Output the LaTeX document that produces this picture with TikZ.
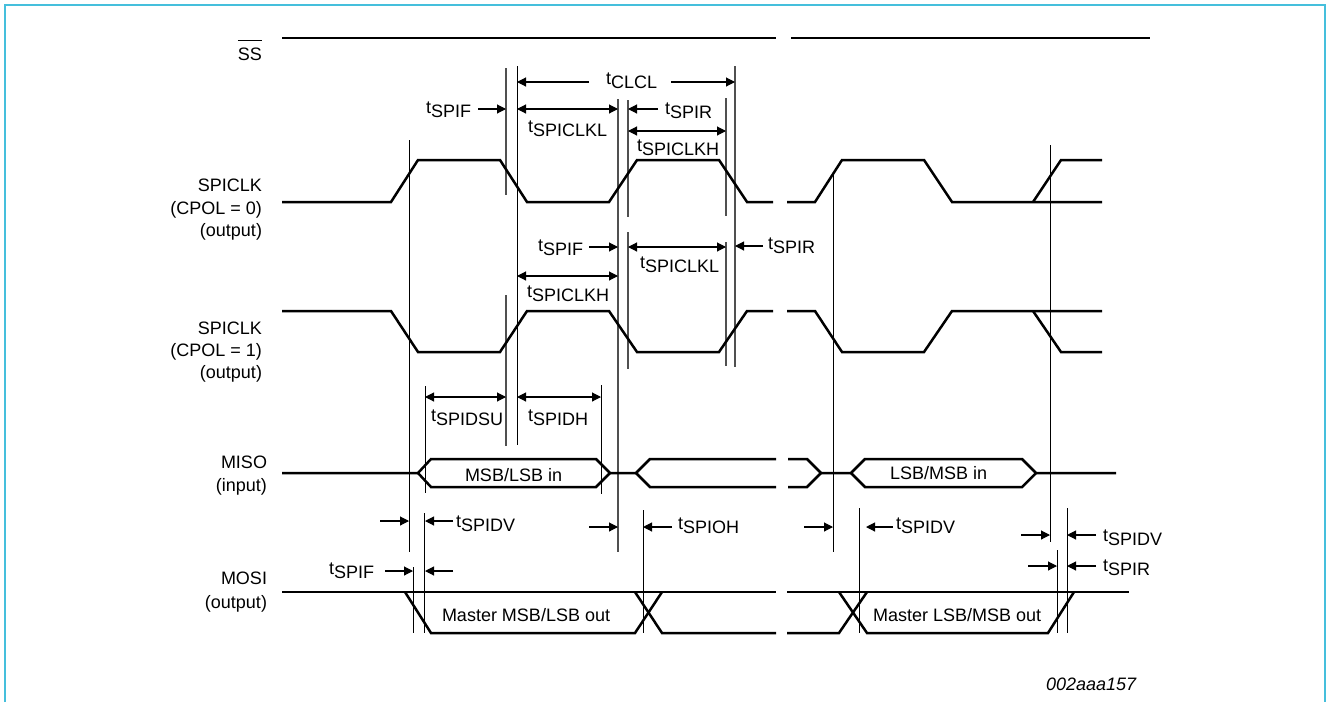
\documentclass[tikz,border=0pt]{standalone}
\usepackage{fontspec}
\setmainfont{Liberation Sans}
\usetikzlibrary{arrows.meta}
\newcommand\tsub[1]{t\raisebox{-4pt}{#1}}
\newcommand\ssbar{\setbox0\hbox{SS}\rlap{\raisebox{19pt}{\rule{\wd0}{1pt}}}\box0}
\definecolor{frameblue}{HTML}{45BFDC}
\definecolor{guidegray}{HTML}{505050}
\tikzset{
  frameline/.style={draw=frameblue,line width=2pt},
  wave/.style={draw=black,line width=2.5pt,line join=miter,line cap=butt},
  guidethin/.style={draw=black,line width=0.9pt},
  guidethick/.style={draw=guidegray,line width=1.5pt},
  dimline/.style={draw=black,line width=1.1pt},
  dimto/.style={dimline,-{Triangle[length=9pt,width=9pt]}},
  dimboth/.style={dimline,{Triangle[length=9pt,width=9pt]}-{Triangle[length=9pt,width=9pt]}},
  lbl/.style={inner sep=0pt,outer sep=0pt,font=\fontsize{18}{20}\selectfont,anchor=base west},
  lblr/.style={lbl,anchor=base east},
}
\begin{document}
\begin{tikzpicture}[x=1pt,y=-1pt]
\useasboundingbox (0,0) rectangle (1326,702);
\draw[frameline] (5,702) -- (5,5) -- (1325,5) -- (1325,702);

% guides
\foreach \x/\a/\b in {506/68/195,506/295/446,618/99/552,628/100/217,628/232/369,726/98/216,726/242/366,735/66/367}
  \draw[guidethick] (\x,\a) -- (\x,\b);
\foreach \x/\a/\b in {517/66/445,409/140/552,425/386/493,601/385/494,413/567/633,424/513/633,643/510/633,833/175/552,859/508/633,1050/145/542,1057/550/633,1067/508/633}
  \draw[guidethin] (\x,\a) -- (\x,\b);

% SS
\draw[wave] (282,38) -- (776,38);
\draw[wave] (791,38) -- (1150,38);
% SPICLK CPOL=0
\draw[wave] (282,202) -- (391,202) -- (418,160) -- (500,160) -- (527,202) -- (609,202) -- (637,160) -- (719,160) -- (747,202) -- (773,202);
\draw[wave] (787,202) -- (815,202) -- (842,160) -- (924,160) -- (952,202) -- (1102,202);
\draw[wave] (1033,202) -- (1061,160) -- (1102,160);
% SPICLK CPOL=1
\draw[wave] (282,311) -- (391,311) -- (418,352) -- (500,352) -- (527,311) -- (609,311) -- (637,352) -- (719,352) -- (747,311) -- (773,311);
\draw[wave] (787,311) -- (815,311) -- (842,352) -- (924,352) -- (952,311) -- (1102,311);
\draw[wave] (1033,311) -- (1061,352) -- (1102,352);
% MISO
\draw[wave] (282,473) -- (418,473) -- (431,459) -- (596,459) -- (610,473) -- (636,473) -- (650,459) -- (776,459);
\draw[wave] (418,473) -- (431,487) -- (596,487) -- (610,473);
\draw[wave] (636,473) -- (650,487) -- (776,487);
\draw[wave] (788,459) -- (807,459) -- (821,473) -- (807,487) -- (788,487);
\draw[wave] (821,473) -- (851,473) -- (865,459) -- (1022,459) -- (1036,473) -- (1116,473);
\draw[wave] (851,473) -- (865,487) -- (1022,487) -- (1036,473);
% MOSI
\draw[wave] (282,592) -- (776,592);
\draw[wave] (787,592) -- (1129,592);
\draw[wave] (405,592) -- (431,633) -- (635,633) -- (662,592);
\draw[wave] (635,592) -- (662,633) -- (776,633);
\draw[wave] (787,633) -- (839,633) -- (867,592);
\draw[wave] (839,592) -- (867,633) -- (1048,633) -- (1074,592);

% dimension arrows
\draw[dimto] (589,82) -- (517,82);
\draw[dimto] (671,82) -- (735,82);
\draw[dimto] (478,109) -- (506,109);
\draw[dimboth] (517,109) -- (618,109);
\draw[dimto] (658,109) -- (628,109);
\draw[dimboth] (628,131) -- (726,131);
\draw[dimto] (589,247) -- (618,247);
\draw[dimboth] (628,247) -- (726,247);
\draw[dimto] (763,246) -- (735,246);
\draw[dimboth] (517,276) -- (618,276);
\draw[dimboth] (425,397) -- (506,397);
\draw[dimboth] (517,397) -- (601,397);
\draw[dimto] (380,521) -- (409,521);
\draw[dimto] (453,521) -- (425,521);
\draw[dimto] (589,527) -- (618,527);
\draw[dimto] (672,527) -- (643,527);
\draw[dimto] (385,571) -- (413,571);
\draw[dimto] (453,571) -- (425,571);
\draw[dimto] (804,527) -- (833,527);
\draw[dimto] (893,527) -- (866,527);
\draw[dimto] (1021,535) -- (1050,535);
\draw[dimto] (1096,535) -- (1067,535);
\draw[dimto] (1028,566) -- (1057,566);
\draw[dimto] (1096,566) -- (1067,566);

% timing labels
\node[lbl] (tclcl) at (606,84) {\tsub{CLCL}};
\node[lbl] (tspifa) at (426,113) {\tsub{SPIF}};
\node[lbl] (tclkla) at (528,132) {\tsub{SPICLKL}};
\node[lbl] (tspira) at (665,114) {\tsub{SPIR}};
\node[lbl] (tclkha) at (637,151) {\tsub{SPICLKH}};
\node[lbl] (tspifb) at (538,251) {\tsub{SPIF}};
\node[lbl] (tclklb) at (640,268) {\tsub{SPICLKL}};
\node[lbl] (tspirb) at (768,249) {\tsub{SPIR}};
\node[lbl] (tclkhb) at (527,297) {\tsub{SPICLKH}};
\node[lbl] (tdsu) at (431,421) {\tsub{SPIDSU}};
\node[lbl] (tdh) at (528,421) {\tsub{SPIDH}};
\node[lbl] (tdva) at (456,527) {\tsub{SPIDV}};
\node[lbl] (toh) at (678,529) {\tsub{SPIOH}};
\node[lbl] (tspifc) at (329,574) {\tsub{SPIF}};
\node[lbl] (tdvb) at (896,529) {\tsub{SPIDV}};
\node[lbl] (tdvc) at (1103,541) {\tsub{SPIDV}};
\node[lbl] (tspirc) at (1103,571) {\tsub{SPIR}};

% data labels
\node[lbl] (misoa) at (465,481) {MSB/LSB in};
\node[lbl] (misob) at (890,479) {LSB/MSB in};
\node[lbl] (mosia) at (442,621) {Master MSB/LSB out};
\node[lbl] (mosib) at (873,621) {Master LSB/MSB out};

% signal names
\node[lblr] (ss) at (262,60) {\ssbar};
\node[lblr] (clka1) at (262,191) {SPICLK};
\node[lblr] (clka2) at (262,214) {(CPOL = 0)};
\node[lblr] (clka3) at (262,236) {(output)};
\node[lblr] (clkb1) at (262,334) {SPICLK};
\node[lblr] (clkb2) at (262,356) {(CPOL = 1)};
\node[lblr] (clkb3) at (262,378) {(output)};
\node[lblr] (miso1) at (267,468) {MISO};
\node[lblr] (miso2) at (267,491) {(input)};
\node[lblr] (mosi1) at (267,584) {MOSI};
\node[lblr] (mosi2) at (267,608) {(output)};
\node[lbl,font=\fontsize{18}{20}\selectfont\itshape] (code) at (1046,690) {002aaa157};
\end{tikzpicture}
\end{document}
